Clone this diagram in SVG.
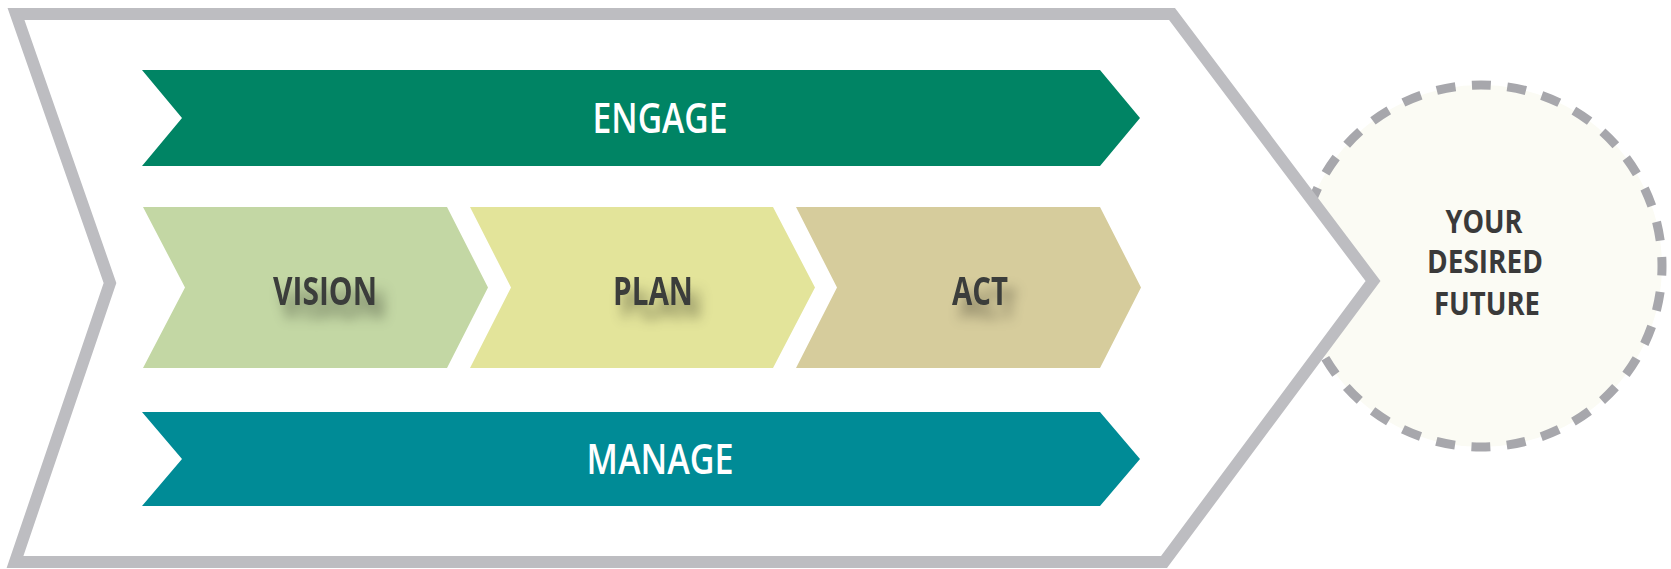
<svg xmlns="http://www.w3.org/2000/svg" width="1671" height="569" viewBox="0 0 1671 569">
<defs>
<style>
.band{font-family:"Open Sans","Liberation Sans",sans-serif;font-weight:600;font-size:42px;fill:#ffffff;text-anchor:middle}
.step{font-family:"Open Sans","Liberation Sans",sans-serif;font-weight:700;font-size:40px;fill:#3b3e3b;text-anchor:middle}
.goal{font-family:"Open Sans","Liberation Sans",sans-serif;font-weight:700;font-size:32px;fill:#3a3a3a;text-anchor:middle}
</style>
<filter id="sh" x="-40%" y="-60%" width="180%" height="260%">
<feDropShadow dx="8" dy="13" stdDeviation="6.5" flood-color="#000" flood-opacity="0.42"/>
</filter>
</defs>
<rect width="1671" height="569" fill="#ffffff"/>
<g id="future">
<circle cx="1481" cy="266" r="181" fill="#fbfbf4" stroke="#a7a7ac" stroke-width="9" stroke-dasharray="19 16.54" stroke-dashoffset="9.5"/>
<text class="goal" x="1484" y="233" textLength="77" lengthAdjust="spacingAndGlyphs">YOUR</text>
<text class="goal" x="1485" y="273" textLength="116" lengthAdjust="spacingAndGlyphs">DESIRED</text>
<text class="goal" x="1487" y="315" textLength="106" lengthAdjust="spacingAndGlyphs">FUTURE</text>
</g>
<g id="frame">
<polygon points="16,14 1172,14 1373,281 1164,562 15,562 110,283" fill="#ffffff" stroke="#bdbdc1" stroke-width="12" stroke-linejoin="miter"/>
</g>
<g id="engage">
<polygon points="142,70 1100,70 1140,118 1100,166 142,166 182,118" fill="#008464"/>
<text class="band" x="660" y="133" textLength="135" lengthAdjust="spacingAndGlyphs">ENGAGE</text>
</g>
<g id="vision">
<polygon points="143,207 447,207 488,287.5 447,368 143,368 185,287.5" fill="#c3d7a4"/>
<text class="step" x="325" y="305" textLength="104" lengthAdjust="spacingAndGlyphs" filter="url(#sh)">VISION</text>
</g>
<g id="plan">
<polygon points="470,207 773,207 815,287.5 773,368 470,368 511,287.5" fill="#e3e49a"/>
<text class="step" x="653" y="305" textLength="80" lengthAdjust="spacingAndGlyphs" filter="url(#sh)">PLAN</text>
</g>
<g id="act">
<polygon points="796,207 1100,207 1141,287.5 1100,368 796,368 837,287.5" fill="#d6cc9c"/>
<text class="step" x="980" y="305" textLength="56" lengthAdjust="spacingAndGlyphs" filter="url(#sh)">ACT</text>
</g>
<g id="manage">
<polygon points="142,412 1100,412 1140,459 1100,506 142,506 182,459" fill="#008b96"/>
<text class="band" x="660" y="474" textLength="147" lengthAdjust="spacingAndGlyphs">MANAGE</text>
</g>
<g id="connectors"></g>
</svg>
